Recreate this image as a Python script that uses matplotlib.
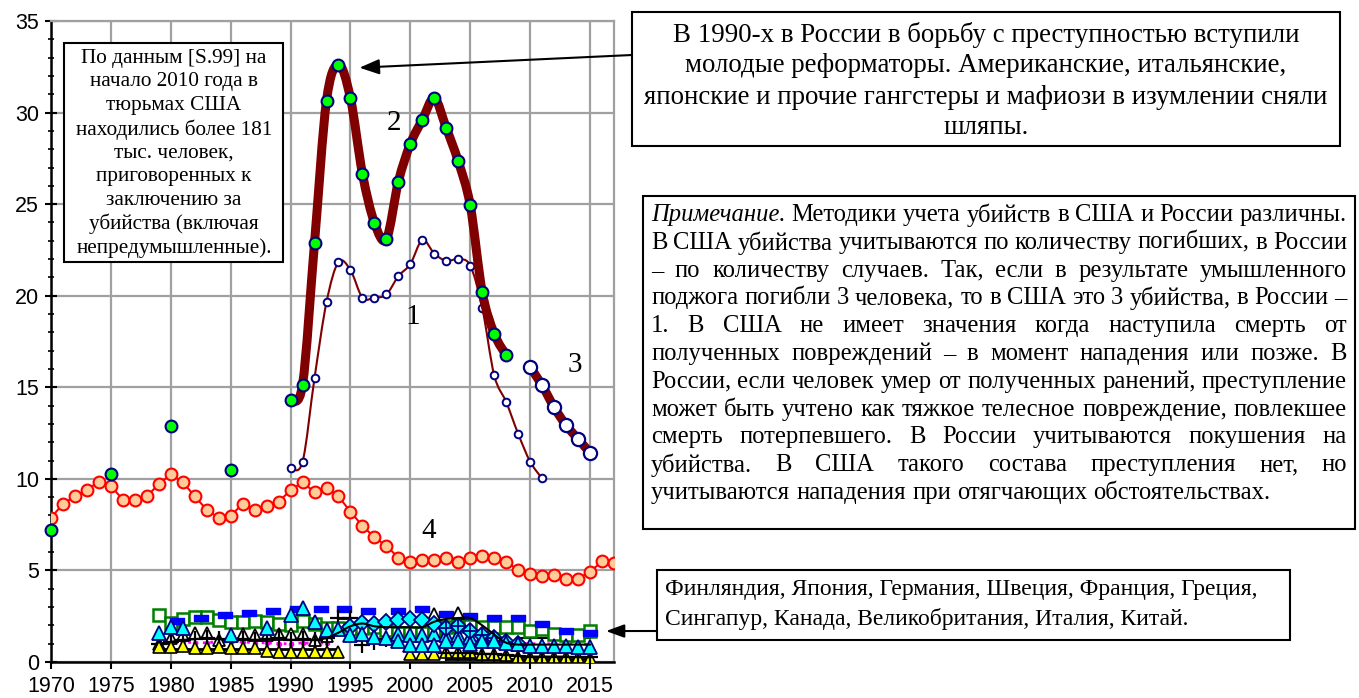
import numpy as np
import matplotlib
matplotlib.use('Agg')
import matplotlib.pyplot as plt
from matplotlib.path import Path
from matplotlib.patches import PathPatch, Rectangle
from matplotlib.ticker import MultipleLocator

plt.rcParams['font.family'] = ['Liberation Sans', 'DejaVu Sans']

# ---------------- data ----------------
# 4: red circles
s4_years = list(range(1970, 2018))
s4_vals = [7.87, 8.64, 9.05, 9.4, 9.85, 9.6, 8.87, 8.87, 9.05, 9.71,
           10.25, 9.82, 9.05, 8.31, 7.87, 7.98, 8.64, 8.31, 8.53, 8.75,
           9.38, 9.82, 9.27, 9.51, 9.05, 8.2, 7.44, 6.8, 6.35, 5.69,
           5.45, 5.56, 5.56, 5.69, 5.45, 5.69, 5.8, 5.69, 5.45, 5.04,
           4.82, 4.71, 4.75, 4.55, 4.55, 4.93, 5.49, 5.38]

# 2: thick line with green circles (isolated early points + 1990-2008)
s2_early_years = [1970, 1975, 1980, 1985]
s2_early_vals = [7.2, 10.25, 12.87, 10.49]
s2_years = list(range(1990, 2009))
s2_vals = [14.29, 15.15, 22.9, 30.65, 32.62, 30.78, 26.66, 23.99, 23.1, 26.23,
           28.29, 29.6, 30.78, 29.15, 27.33, 24.93, 20.2, 17.93, 16.75]

# 1: thin line with small circles
s1_years = list(range(1990, 2012))
s1_vals = [10.58, 10.93, 15.51, 19.65, 21.84, 21.4, 19.89, 19.89, 20.07, 21.07,
           21.73, 23.04, 22.3, 21.9, 22.0, 21.64, 19.35, 15.65, 14.2, 12.46,
           10.94, 10.02]

# 3: thick line with large white circles
s3_years = list(range(2010, 2016))
s3_vals = [16.09, 15.11, 13.91, 12.93, 12.18, 11.42]

# low cluster (Finland, Japan, Germany, Sweden, France, Greece,
# Singapore, Canada, UK, Italy, China)
green_years = list(range(1979, 2016))
green_vals = [2.55, 2.15, 2.35, 2.45, 2.45, 2.3, 2.2, 2.2, 2.25, 2.2,
              2.1, 2.0, 2.25, 2.05, 1.85, 1.85, 1.8, 1.85, 1.9, 1.75,
              1.6, 1.6, 1.6, 1.75, 1.9, 1.95, 1.95, 1.9, 1.9, 1.9,
              1.9, 1.7, 1.8, 1.55, 1.45, 1.45, 1.7]

blue_years = [1980.5, 1982.5, 1984.5, 1986.5, 1988.5, 1990.5, 1992.5, 1994.5,
              1996.5, 1999, 2001, 2003, 2005, 2007, 2009, 2011, 2013, 2015]
blue_vals = [2.25, 2.4, 2.55, 2.7, 2.8, 2.9, 2.9, 2.9, 2.8, 2.8, 2.9, 2.6,
             2.5, 2.4, 2.4, 2.1, 1.7, 1.6]

cyanA_years = [1979, 1980, 1981, 1985, 1988, 1990, 1991, 1992, 1993, 1994,
               1995, 1996, 1997, 1998, 1999, 2000, 2001, 2002, 2003, 2004,
               2005, 2006, 2007, 2008, 2009, 2010, 2011, 2012, 2013, 2014, 2015]
cyanA_vals = [1.6, 1.9, 1.85, 1.5, 1.85, 2.55, 2.95, 2.2, 1.75, 1.8,
              1.5, 1.55, 1.35, 1.3, 1.15, 0.95, 0.95, 0.95, 1.15, 1.15,
              1.0, 1.15, 1.15, 1.05, 1.0, 0.85, 0.9, 0.85, 0.85, 0.8, 0.8]

cyanB_years = [1999, 2000, 2001, 2002, 2003, 2004, 2005, 2006, 2007, 2008, 2009]
cyanB_vals = [1.55, 1.45, 1.5, 1.55, 1.5, 1.5, 1.35, 1.3, 1.2, 1.1, 1.0]

diam_years = list(range(1995, 2010))
diam_vals = [1.9, 2.15, 2.05, 2.2, 2.3, 2.35, 2.3, 2.1, 1.85, 1.95, 1.7,
             1.5, 1.3, 1.1, 1.0]

blk_years = list(range(1993, 2016))
blk_vals = [1.3, 1.6, 1.95, 2.1, 1.95, 1.9, 1.9, 1.9, 1.9, 2.2, 2.35, 2.4,
            2.4, 2.0, 1.5, 1.05, 0.95, 0.95, 0.95, 0.95, 0.95, 0.95, 0.95]

plusA_years = list(range(1979, 1994))
plusA_vals = [1.0, 1.1, 1.2, 1.25, 1.3, 1.25, 1.2, 1.25, 1.2, 1.25, 1.3, 1.2,
              1.25, 1.2, 1.3]
plusB_years = [1994, 1995, 1996, 1997, 1998]
plusB_vals = [2.4, 2.4, 0.95, 1.1, 1.25]
plusC_years = list(range(2003, 2016))
plusC_vals = [0.5, 0.5, 0.5, 0.45, 0.45, 0.4, 0.35, 0.3, 0.3, 0.3, 0.3,
              0.25, 0.25]

htri_years = list(range(1979, 1994)) + [2002, 2004]
htri_vals = [1.0, 1.3, 1.45, 1.6, 1.6, 1.2, 1.4, 1.55, 1.5, 1.45, 1.55,
             1.55, 1.55, 1.2, 1.4, 2.6, 2.65]

yelA_years = list(range(1979, 1995))
yelA_vals = [0.8, 0.8, 0.85, 0.75, 0.75, 0.8, 0.75, 0.75, 0.75, 0.6, 0.55,
             0.55, 0.55, 0.55, 0.55, 0.55]
yelB_years = list(range(2000, 2016))
yelB_vals = [0.45, 0.45, 0.45, 0.55, 0.55, 0.55, 0.45, 0.45, 0.4, 0.3,
             0.25, 0.25, 0.25, 0.25, 0.25, 0.2]

magA_years = list(range(1979, 1994))
magA_vals = [1.1, 1.15, 1.1, 1.05, 1.05, 1.1, 1.1, 1.1, 1.05, 1.05, 1.0,
             1.0, 1.05, 1.0, 1.05]
magB_years = list(range(2001, 2016))
magB_vals = [1.2, 1.2, 1.15, 1.15, 1.1, 1.05, 1.05, 1.0, 1.0, 1.0, 1.0,
             1.0, 1.0, 1.0, 0.95]

lineA_years = [1979, 1994]
lineA_vals = [0.7, 0.7]
lineB_years = [2003, 2015]
lineB_vals = [0.15, 0.15]
lineC_years = [2009, 2015]
lineC_vals = [1.3, 1.3]

x_ticks = list(range(1970, 2016, 5))
y_ticks = list(range(0, 36, 5))

# ---------------- figure ----------------
W, H = 1359, 698
fig = plt.figure(figsize=(W / 100, H / 100), dpi=100)
ax = fig.add_axes([51 / W, 1 - 662 / H, (614 - 51) / W, (662 - 21) / H])
ax.set_xlim(1970, 2017)
ax.set_ylim(0, 35)
ax.set_xticks(x_ticks)
ax.set_yticks(y_ticks)
ax.yaxis.set_minor_locator(MultipleLocator(1))
ax.grid(True, which='major', color='#a0a0a0', lw=1.6)
ax.set_axisbelow(True)
for s in ['left', 'bottom']:
    ax.spines[s].set_color('black')
    ax.spines[s].set_linewidth(1.8)
for s in ['top', 'right']:
    ax.spines[s].set_color('#a0a0a0')
    ax.spines[s].set_linewidth(1.6)
ax.tick_params(axis='both', which='major', direction='out', length=5,
               width=1.5, labelsize=15.5, colors='black')
ax.tick_params(axis='y', which='major', direction='inout', length=9, pad=4)
ax.tick_params(axis='y', which='minor', direction='inout', length=5, width=1.2)
ax.tick_params(axis='x', which='major', pad=5)


def smooth_path(x, y):
    x = np.asarray(x, float)
    y = np.asarray(y, float)
    n = len(x)
    verts = [(x[0], y[0])]
    codes = [Path.MOVETO]
    for i in range(n - 1):
        i0 = max(i - 1, 0)
        i3 = min(i + 2, n - 1)
        c1 = (x[i] + (x[i + 1] - x[i0]) / 6, y[i] + (y[i + 1] - y[i0]) / 6)
        c2 = (x[i + 1] - (x[i3] - x[i]) / 6, y[i + 1] - (y[i3] - y[i]) / 6)
        verts += [c1, c2, (x[i + 1], y[i + 1])]
        codes += [Path.CURVE4] * 3
    return Path(verts, codes)


def smooth_line(x, y, **kw):
    ax.add_patch(PathPatch(smooth_path(x, y), fill=False, capstyle='round',
                           joinstyle='round', **kw))


navy = '#000080'
dred = '#800000'

# --- low cluster ---
ax.plot(lineA_years, lineA_vals, color='black', lw=2, zorder=3)
ax.plot(lineB_years, lineB_vals, color='black', lw=2, zorder=3)
ax.plot(lineC_years, lineC_vals, color='black', lw=1.5, zorder=3)
ax.plot(magA_years, magA_vals, color='#ff00ff', lw=2, ls=':', marker='o',
        ms=3, zorder=3)
ax.plot(magB_years, magB_vals, color='#ff00ff', lw=2, ls=':', marker='o',
        ms=3, zorder=3)
ax.plot(green_years, green_vals, color='#008000', lw=1.5, marker='s', ms=9,
        mfc='white', mec='#008000', mew=1.8, zorder=4)
rect = [(-1, -0.45), (1, -0.45), (1, 0.45), (-1, 0.45), (-1, -0.45)]
ax.plot(blue_years, blue_vals, ls='none', marker=rect, ms=10, mfc='#0000ff',
        mec='#0000ff', zorder=4)
ax.plot(htri_years, htri_vals, ls='none', marker='^', ms=9, mfc='white',
        mec='black', mew=1.3, zorder=4)
ax.plot(plusA_years, plusA_vals, color='black', lw=1.5, marker='+', ms=11,
        mew=1.6, zorder=5)
ax.plot(plusB_years[:2], plusB_vals[:2], color='black', lw=2, marker='+',
        ms=11, mew=1.6, zorder=5)
ax.plot(plusB_years[2:], plusB_vals[2:], ls='none', color='black',
        marker='+', ms=11, mew=1.6, zorder=5)
ax.plot(plusC_years, plusC_vals, color='black', lw=1.2, marker='+', ms=11,
        mew=1.6, zorder=6)
ax.plot(yelA_years, yelA_vals, ls='none', marker='^', ms=9, mfc='#ffff00',
        mec='black', mew=1.2, zorder=5)
ax.plot(yelB_years, yelB_vals, ls='none', marker='^', ms=9, mfc='#ffff00',
        mec='black', mew=1.2, zorder=5)
ax.plot(cyanB_years, cyanB_vals, ls='none', marker='^', ms=10, mfc='#00ffff',
        mec=navy, mew=1.3, zorder=5)
ax.plot(diam_years, diam_vals, ls='none', marker='D', ms=8, mfc='#00ffff',
        mec=navy, mew=1.3, zorder=5)
ax.plot(diam_years[8:], diam_vals[8:], ls='none', marker='+', ms=10,
        color=navy, mew=1.3, zorder=6)
ax.plot(cyanA_years, cyanA_vals, ls='none', marker='^', ms=10,
        mfc='#00ffff', mec=navy, mew=1.3, zorder=6)
smooth_line(blk_years, blk_vals, edgecolor='black', lw=1.5, zorder=6)

# --- series 4 ---
ax.plot(s4_years, s4_vals, color='#ff0000', lw=1.5, marker='o', ms=8.5,
        mfc='#ffcc99', mec='#ff0000', mew=1.5, zorder=7)

# --- series 1 ---
smooth_line(s1_years, s1_vals, edgecolor=dred, lw=1.5, zorder=8)
ax.plot(s1_years, s1_vals, ls='none', marker='o', ms=5.5, mfc='white',
        mec=navy, mew=1.4, zorder=9)

# --- series 2 ---
smooth_line(s2_years, s2_vals, edgecolor=dred, lw=6.5, zorder=10)
ax.plot(s2_years, s2_vals, ls='none', marker='o', ms=8.5, mfc='#00ff00',
        mec=navy, mew=1.5, zorder=11)
ax.plot(s2_early_years, s2_early_vals, ls='none', marker='o', ms=8.5,
        mfc='#00ff00', mec=navy, mew=1.5, zorder=11, clip_on=False)

# --- series 3 ---
smooth_line(s3_years, s3_vals, edgecolor=dred, lw=6.5, zorder=10)
ax.plot(s3_years, s3_vals, ls='none', marker='o', ms=9.5, mfc='white',
        mec=navy, mew=1.6, zorder=11)

serif = ['Liberation Serif', 'DejaVu Serif']
for lbl, (lx, ly) in zip(['1', '2', '3', '4'],
                         [(2000.17, 18.84), (1998.67, 29.42),
                          (2013.75, 16.22), (2001.5, 7.15)]):
    ax.text(lx, ly, lbl, fontsize=21, family=serif, ha='center',
            va='center', zorder=12)

# ---------------- text boxes ----------------
def fx(x):
    return x / W


def fy(y):
    return 1 - y / H


def box(x0, y0, x1, y1):
    fig.patches.append(Rectangle((fx(x0), fy(y1)), fx(x1) - fx(x0),
                                 fy(y0) - fy(y1), transform=fig.transFigure,
                                 facecolor='white', edgecolor='black',
                                 lw=1.5, zorder=20))


left_lines = ['По данным [S.99] на', 'начало 2010 года в', 'тюрьмах США',
              'находились более 181', 'тыс. человек,', 'приговоренных к',
              'заключению за', 'убийства (включая', 'непредумышленные).']
box(64, 43, 283, 262)
for i, t in enumerate(left_lines):
    fig.text(fx(174), fy(58 + i * 23.75), t, fontsize=15.3, family=serif,
             ha='center', va='center', zorder=21)

top_lines = ['В 1990-х в России в борьбу с преступностью вступили',
             'молодые реформаторы. Американские, итальянские,',
             'японские и прочие гангстеры и мафиози в изумлении сняли',
             'шляпы.']
box(632, 12, 1340, 146)
for i, t in enumerate(top_lines):
    fig.text(fx(986), fy(35 + i * 31), t, fontsize=19.4, family=serif,
             ha='center', va='center', zorder=21)

bottom_lines = ['Финляндия, Япония, Германия, Швеция, Франция, Греция,',
                'Сингапур, Канада, Великобритания, Италия, Китай.']
box(657, 570, 1290, 640)
for i, t in enumerate(bottom_lines):
    fig.text(fx(665), fy(590 + i * 29), t, fontsize=17, family=serif,
             ha='left', va='center', zorder=21)

note_lines = ['Примечание. Методики учета убийств в США и России различны.',
              'В США убийства учитываются по количеству погибших, в России',
              '– по количеству случаев. Так, если в результате умышленного',
              'поджога погибли 3 человека, то в США это 3 убийства, в России –',
              '1. В США не имеет значения когда наступила смерть от',
              'полученных повреждений – в момент нападения или позже. В',
              'России, если человек умер от полученных ранений, преступление',
              'может быть учтено как тяжкое телесное повреждение, повлекшее',
              'смерть потерпевшего. В России учитываются покушения на',
              'убийства. В США такого состава преступления нет, но',
              'учитываются нападения при отягчающих обстоятельствах.']
box(643, 196, 1355, 529)
renderer = fig.canvas.get_renderer()
nx0, nx1 = 651, 1347
nsize = 17.7
for li, line in enumerate(note_lines):
    words = line.split(' ')
    objs = []
    widths = []
    for wi, w in enumerate(words):
        style = 'italic' if (li == 0 and wi == 0) else 'normal'
        t = fig.text(0, fy(215 + li * 27.8), w, fontsize=nsize, family=serif,
                     style=style, ha='left', va='center', zorder=21)
        objs.append(t)
        widths.append(t.get_window_extent(renderer).width)
    if li < len(note_lines) - 1 and len(words) > 1:
        gap = (nx1 - nx0 - sum(widths)) / (len(words) - 1)
    else:
        gap = 0.25 * nsize * 100 / 72
    x = nx0
    for t, wdt in zip(objs, widths):
        t.set_x(fx(x))
        x += wdt + gap

# ---------------- arrows ----------------
ax.annotate('', xy=(1995.75, 32.45), xycoords='data',
            xytext=(fx(632), fy(55)), textcoords='figure fraction',
            arrowprops=dict(arrowstyle='-|>,head_length=0.6,head_width=0.23',
                            color='black', lw=1.5, mutation_scale=20,
                            shrinkA=0, shrinkB=0),
            annotation_clip=False, zorder=15)
ax.annotate('', xy=(2016.33, 1.69), xycoords='data',
            xytext=(fx(657), fy(631)), textcoords='figure fraction',
            arrowprops=dict(arrowstyle='-|>,head_length=0.55,head_width=0.2',
                            color='black', lw=1.5, mutation_scale=20,
                            shrinkA=0, shrinkB=0),
            annotation_clip=False, zorder=15)

fig.savefig('out.png', dpi=100)
